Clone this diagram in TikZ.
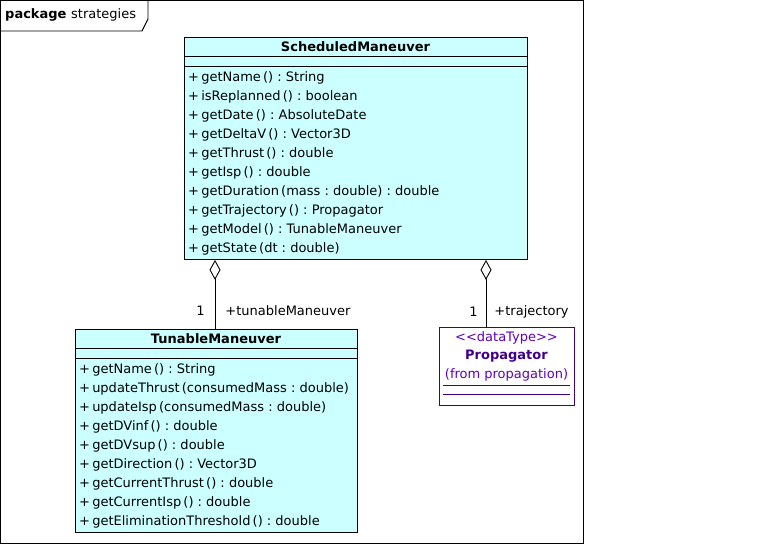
\documentclass[tikz,border=0pt]{standalone}
\usepackage{fontspec}
\setmainfont{DejaVu Sans}
\usetikzlibrary{arrows.meta, calc}
\definecolor{classfill}{RGB}{204,255,255}
\definecolor{dtline}{RGB}{64,0,128}
\definecolor{dtstereo}{RGB}{96,0,192}
\definecolor{dtname}{RGB}{64,0,140}
\frenchspacing

\tikzset{
  classbox/.style={draw, fill=classfill, line width=0.9pt, anchor=north west, inner sep=0pt},
  dtbox/.style={draw=dtline, fill=white, line width=0.9pt, anchor=north west, inner sep=0pt},
  classname/.style={font=\fontsize{13}{16}\selectfont\bfseries, inner sep=0pt},
  members/.style={font=\fontsize{13}{19}\selectfont, align=left, anchor=north west, inner sep=0pt},
  aggr/.style={{Diamond[open, length=20pt, width=11pt]}-, line width=0.9pt},
  rolelabel/.style={font=\fontsize{13}{16}\selectfont, inner sep=0pt}
}

\begin{document}
\begin{tikzpicture}[x=1pt, y=-1pt]
  \useasboundingbox (0,0) rectangle (761,544);
  % Package frame
  \draw[line width=0.9pt] (0,0) rectangle (583,543);
  \draw[line width=0.9pt] (0,31) -- (142,31) -- (148,19) -- (148,0);
  \node[anchor=west, inner sep=0pt, font=\fontsize{13}{16}\selectfont\bfseries] (pkgkw) at (5,15) {package};
  \node[anchor=west, inner sep=0pt, font=\fontsize{13}{16}\selectfont] (pkgname) at (71,15) {strategies};

  % ScheduledManeuver
  \node[classbox, minimum width=343pt, minimum height=222pt] (sched) at (184,37) {};
  \node[classname] (schedname) at (355.5,47) {ScheduledManeuver};
  \draw[line width=0.9pt] (184,56) -- (527,56);
  \draw[line width=0.9pt] (184,66) -- (527,66);
  \node[members] (schedops) at (188,71.5) {+\,getName\,() : String\\
    +\,isReplanned\,() : boolean\\
    +\,getDate\,() : AbsoluteDate\\
    +\,getDeltaV\,() : Vector3D\\
    +\,getThrust\,() : double\\
    +\,getIsp\,() : double\\
    +\,getDuration\,(mass : double) : double\\
    +\,getTrajectory\,() : Propagator\\
    +\,getModel\,() : TunableManeuver\\
    +\,getState\,(dt : double)};

  % TunableManeuver
  \node[classbox, minimum width=282pt, minimum height=203pt] (tunable) at (75,329) {};
  \node[classname] (tunablename) at (216,339) {TunableManeuver};
  \draw[line width=0.9pt] (75,348) -- (357,348);
  \draw[line width=0.9pt] (75,358) -- (357,358);
  \node[members] (tunableops) at (79,363) {+\,getName\,() : String\\
    +\,updateThrust\,(consumedMass : double)\\
    +\,updateIsp\,(consumedMass : double)\\
    +\,getDVinf\,() : double\\
    +\,getDVsup\,() : double\\
    +\,getDirection\,() : Vector3D\\
    +\,getCurrentThrust\,() : double\\
    +\,getCurrentIsp\,() : double\\
    +\,getEliminationThreshold\,() : double};

  % Propagator data type
  \node[dtbox, minimum width=135pt, minimum height=78pt] (prop) at (439,327) {};
  \node[rolelabel, text=dtstereo] (propstereo) at (506.5,338) {<{}<dataType>{}>};
  \node[classname, text=dtname] (propname) at (506.5,356) {Propagator};
  \node[rolelabel, text=dtstereo] (propfrom) at (506.5,375) {(from propagation)};
  \draw[dtline, line width=0.9pt] (443,385) -- (570,385);
  \draw[dtline, line width=0.9pt] (443,394) -- (570,394);

  % Aggregations
  \draw[aggr] ($(sched.south west)+(31,0)$) -- ($(tunable.north west)+(140,0)$)
    node[rolelabel, pos=0.73, left=10pt] {1}
    node[rolelabel, pos=0.73, right=10pt] {+tunableManeuver};
  \draw[aggr] ($(sched.south west)+(302,0)$) -- ($(prop.north west)+(47,0)$)
    node[rolelabel, pos=0.78, left=8pt] {1}
    node[rolelabel, pos=0.78, right=8pt] {+trajectory};
\end{tikzpicture}
\end{document}
